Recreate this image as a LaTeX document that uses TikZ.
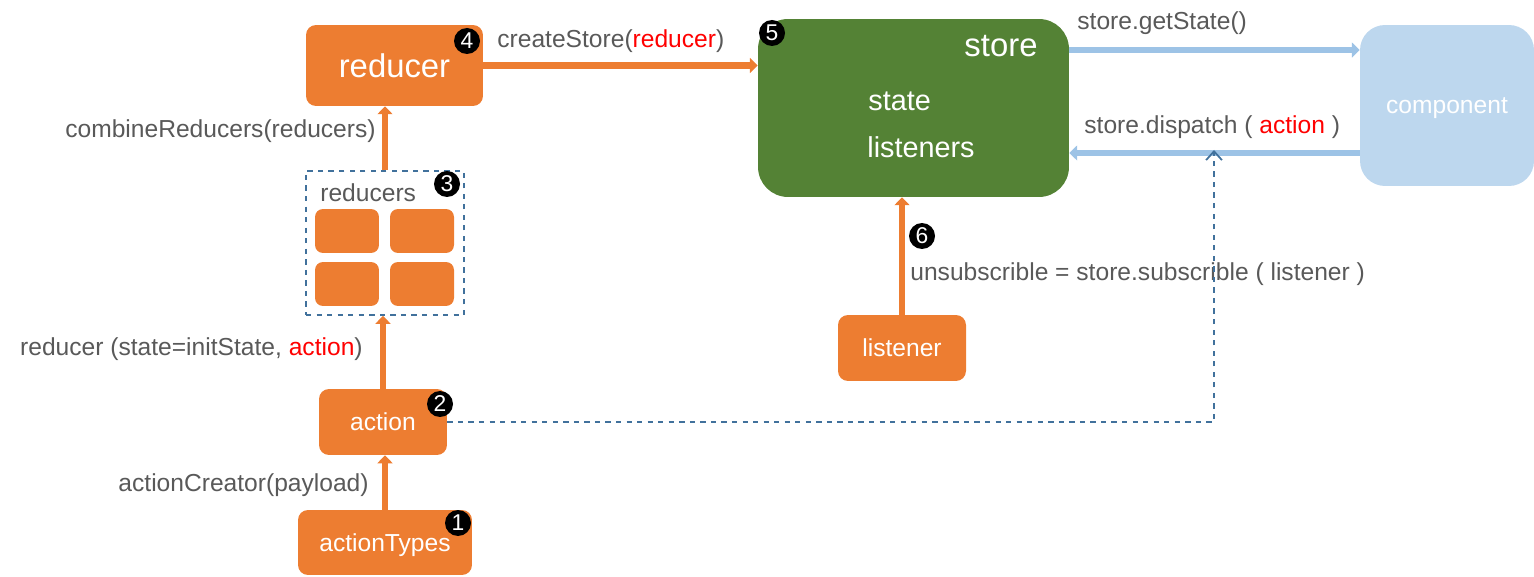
\documentclass[tikz,border=0pt]{standalone}
\usepackage{fontspec}
\setmainfont{Liberation Sans}
\usetikzlibrary{arrows.meta}

\definecolor{orng}{HTML}{ED7D31}
\definecolor{grn}{HTML}{548235}
\definecolor{lblue}{HTML}{BDD7EE}
\definecolor{ablue}{HTML}{9DC3E6}
\definecolor{dblue}{HTML}{41719C}
\definecolor{txt}{HTML}{595959}

\begin{document}
\begin{tikzpicture}[x=0.02cm,y=-0.02cm,
	box/.style={fill=orng,text=white,rounded corners=0.2cm,text depth=0pt,font=\fontsize{14}{16}\selectfont},
	cell/.style={fill=orng,rounded corners=0.16cm,minimum width=1.28cm,minimum height=0.88cm},
	badge/.style={circle,fill=black,text=white,minimum size=0.52cm,inner sep=0pt,font=\fontsize{13}{13}\selectfont},
	lbl/.style={text=txt,inner sep=0pt,font=\fontsize{14}{16}\selectfont},
	wlbl/.style={text=white,inner sep=0pt,font=\fontsize{16.4}{18}\selectfont},
	oarr/.style={orng,line width=3.8pt,-{Triangle[length=4.5pt,width=8.5pt]}},
	barr/.style={ablue,line width=3.8pt,-{Triangle[length=4.5pt,width=8.5pt]}}]
	\useasboundingbox (0,0) rectangle (1534,577);

	\node[box,minimum width=3.54cm,minimum height=1.62cm,font=\fontsize{18.7}{20}\selectfont] (reducer) at (394.5,65.5) {reducer};
	\node[fill=grn,rounded corners=0.6cm,minimum width=6.22cm,minimum height=3.56cm] (store) at (913.5,108) {};
	\node[fill=lblue,text=white,rounded corners=0.5cm,minimum width=3.48cm,minimum height=3.22cm,text depth=0pt,font=\fontsize{14}{16}\selectfont] (comp) at (1447,105.5) {component};
	\node[draw=dblue,dashed,line width=1pt,minimum width=3.16cm,minimum height=2.88cm] (reds) at (385,243) {};
	\node[box,minimum width=2.56cm,minimum height=1.32cm] (action) at (383,422) {action};
	\node[box,minimum width=3.48cm,minimum height=1.30cm] (types) at (385,542.5) {actionTypes};
	\node[box,minimum width=2.56cm,minimum height=1.32cm] (listener) at (902,348) {listener};

	\node[cell] (c1) at (347,231) {};
	\node[cell] (c2) at (422,231) {};
	\node[cell] (c3) at (347,284) {};
	\node[cell] (c4) at (422,284) {};

	\node[wlbl,font=\fontsize{18.7}{20}\selectfont] (storet) at (1001,46) {store};
	\node[wlbl,anchor=west] (state) at (868,101) {state};
	\node[wlbl,anchor=west] (lists) at (867,147) {listeners};
	\node[lbl,anchor=west] (redst) at (320,193) {reducers};

	\node[lbl,anchor=west] (l1) at (497,41) {createStore(\textcolor{red}{reducer})};
	\node[lbl,anchor=east] (l2) at (376,131) {combineReducers(reducers)};
	\node[lbl,anchor=east] (l3) at (363,349) {reducer (state=initState, \textcolor{red}{action})};
	\node[lbl,anchor=east] (l4) at (369,485) {actionCreator(payload)};
	\node[lbl,anchor=west] (l5) at (1077,23) {store.getState()};
	\node[lbl,anchor=west] (l6) at (1084,127) {store.dispatch ( \textcolor{red}{action} )};
	\node[lbl,anchor=west] (l7) at (910,274) {unsubscrible = store.subscrible ( listener )};

	\node[badge] (b1) at (458,523) {1};
	\node[badge] (b2) at (440,404) {2};
	\node[badge] (b3) at (447,184) {3};
	\node[badge] (b4) at (467,41) {4};
	\node[badge] (b5) at (772,33) {5};
	\node[badge] (b6) at (922,236) {6};

	\draw[oarr] (reducer.east) -- (reducer.east -| store.west);
	\draw[oarr] (reds.north) -- (reds.north |- reducer.south);
	\draw[oarr] (action.north) -- (action.north |- reds.south);
	\draw[oarr] (types.north) -- (types.north |- action.south);
	\draw[oarr] (listener.north) -- (listener.north |- store.south);

	\draw[barr] ([yshift=1.16cm]store.east) -- ([yshift=1.16cm]store.east -| comp.west);
	\draw[barr] ([yshift=-0.9cm]store.east -| comp.west) -- ([yshift=-0.9cm]store.east);

	\coordinate (dtip) at (1214,150);
	\draw[dblue,dashed,line width=1pt,-{Straight Barb[length=5pt,width=9pt]}] (action.east) -| (dtip);
\end{tikzpicture}
\end{document}
